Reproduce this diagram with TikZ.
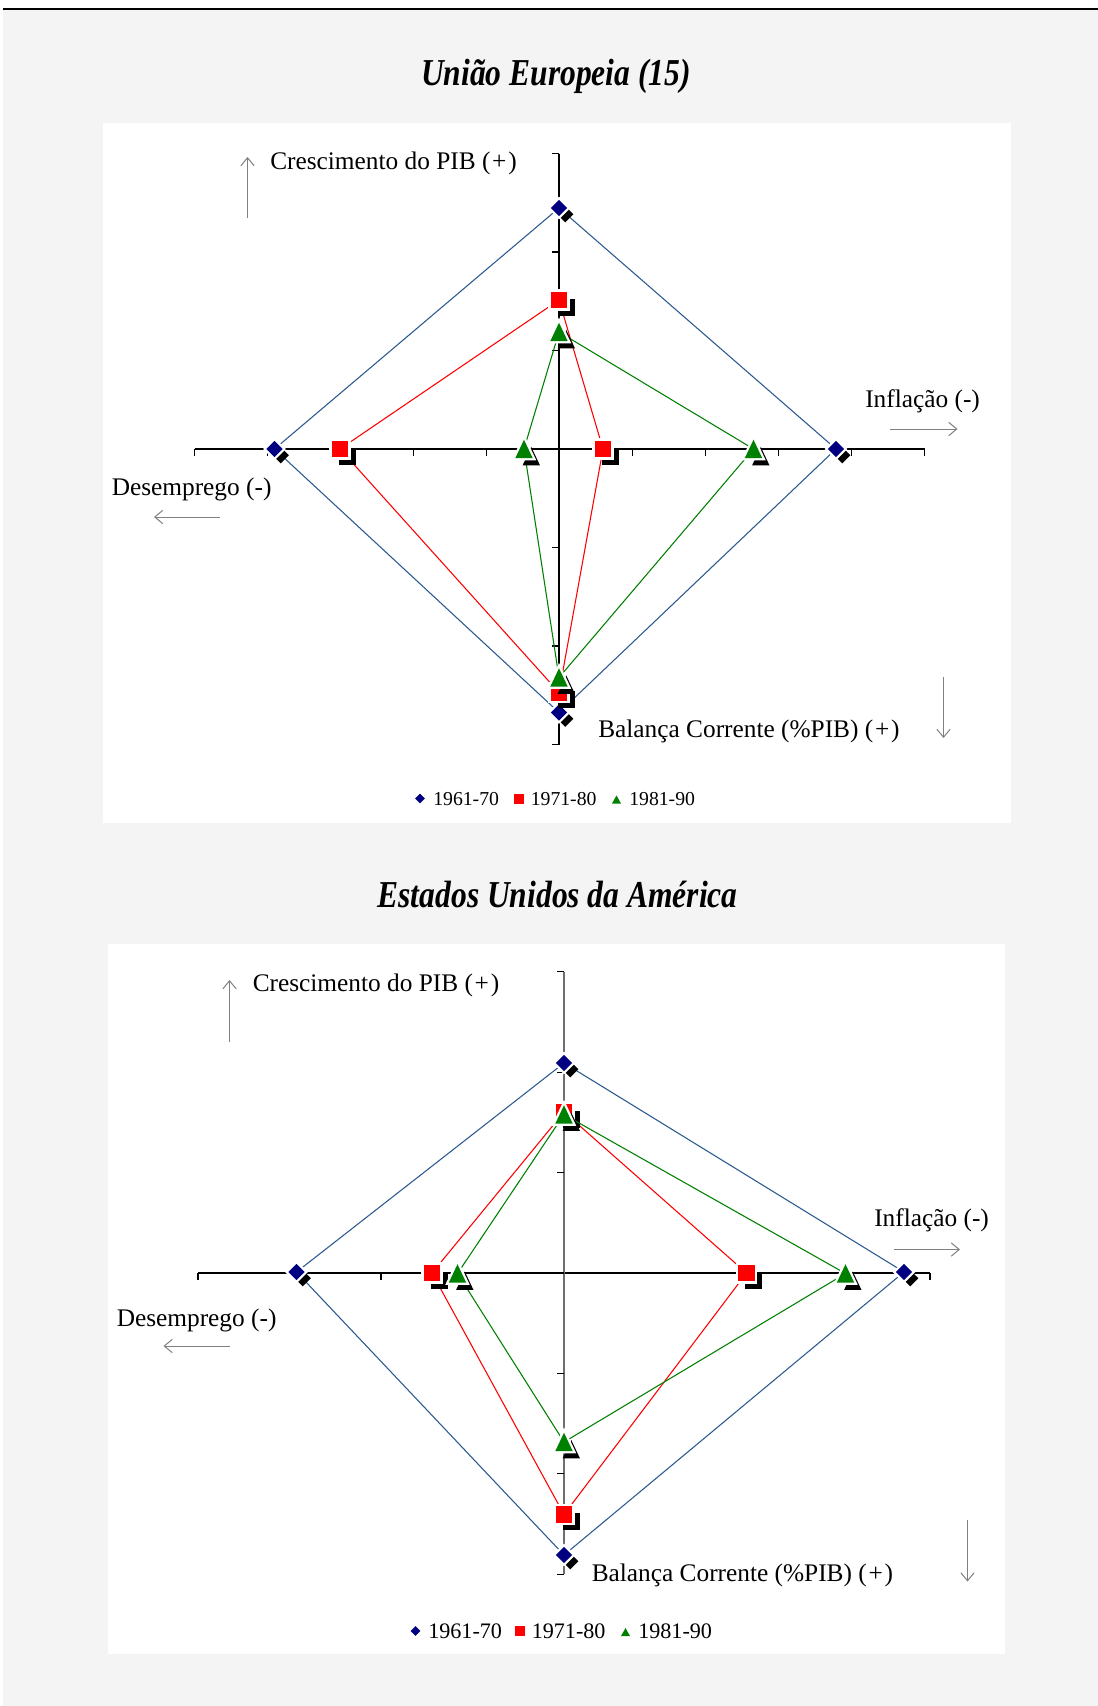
\documentclass[tikz,border=0pt]{standalone}
\usepackage{fontspec}
\setmainfont{Liberation Serif}
\usetikzlibrary{arrows.meta}

\definecolor{pagegray}{HTML}{F4F4F4}
\definecolor{navymk}{HTML}{000080}
\definecolor{navyline}{HTML}{2B5A8E}
\definecolor{redmk}{HTML}{FF0000}
\definecolor{greenmk}{HTML}{008000}
\definecolor{hintgray}{HTML}{808080}
\definecolor{vaxis}{HTML}{6E6E6E}

\newcommand{\plussign}{(\kern1.3pt+\kern1.3pt)}

\tikzset{
  axisline/.style={draw=black, line width=0.8pt},
  tickline/.style={draw=black, line width=0.8pt},
  hint/.style={draw=hintgray, line width=0.75pt, -{Straight Barb[length=6pt,width=10pt,line width=0.75pt]}},
  axlabel/.style={font=\fontsize{19}{21}\selectfont, inner sep=0pt, anchor=base west},
  charttitle/.style={font=\fontsize{28.5}{32}\selectfont\bfseries\itshape, inner sep=0pt, anchor=base},
  legtext/.style={inner sep=0pt, anchor=base west},
  serA/.style={draw=navyline, line width=0.8pt},
  serB/.style={draw=redmk, line width=0.8pt},
  serC/.style={draw=greenmk, line width=0.8pt},
  halo/.style={fill=white, draw=white, line width=3.4pt, line join=miter},
  % data markers: offset black shadow, white halo, coloured face
  pics/mkdiam/.style={code={
    \begin{scope}[scale=1.12]
    \fill[black] (5.5,-1.8) -- (12.8,5.5) -- (5.5,12.8) -- (-1.8,5.5) -- cycle;
    \filldraw[halo] (0,-7.3) -- (7.3,0) -- (0,7.3) -- (-7.3,0) -- cycle;
    \fill[navymk] (0,-7.3) -- (7.3,0) -- (0,7.3) -- (-7.3,0) -- cycle;
    \end{scope}
  }},
  pics/mksq/.style={code={
    \begin{scope}[scale=1.12]
    \fill[black] (-1,-1) rectangle (14,14);
    \filldraw[halo] (-7.5,-7.5) rectangle (7.5,7.5);
    \fill[redmk] (-7.5,-7.5) rectangle (7.5,7.5);
    \end{scope}
  }},
  pics/mktri/.style={code={
    \begin{scope}[scale=1.12]
    \fill[black] (6.5,-1.8) -- (14.3,14.7) -- (-1.3,14.7) -- cycle;
    \filldraw[halo] (0,-8.3) -- (7.8,8.2) -- (-7.8,8.2) -- cycle;
    \fill[greenmk] (0,-8.3) -- (7.8,8.2) -- (-7.8,8.2) -- cycle;
    \end{scope}
  }},
  % legend keys
  pics/legdiam/.style={code={
    \fill[navymk] (0,-4.8) -- (4.8,0) -- (0,4.8) -- (-4.8,0) -- cycle;
  }},
  pics/legsq/.style={code={
    \fill[redmk] (-5,-5) rectangle (5,5);
  }},
  pics/legtri/.style={code={
    \fill[greenmk] (0,-4.5) -- (4.5,3.5) -- (-4.5,3.5) -- cycle;
  }},
}

\begin{document}
\begin{tikzpicture}[x=0.75pt,y=-0.75pt]
  \useasboundingbox (0,0) rectangle (1098,1706);
  % page
  \fill[white] (0,0) rectangle (1098,1706);
  \fill[pagegray] (3,9) rectangle (1098,1706);
  \draw[black, line width=1.1pt] (3,9) -- (1098,9);

  % ================= first chart =================
  \node[charttitle] (t1) at (556,85.5) {\scalebox{0.83}[1]{União Europeia (15)}};
  \fill[white] (103,123) rectangle (1011,823);

  % axes
  \draw[axisline] (194.5,449) -- (924.5,449);
  \foreach \i in {0,...,10} \draw[tickline] ({194.5+73*\i},449) -- ++(0,7);
  \draw[axisline] (559,153.5) -- (559,744.5);
  \foreach \i in {0,...,6} \draw[tickline] (559,{153.5+98.5*\i}) -- ++(-7,0);

  % direction hints
  \draw[hint] (247.5,218) -- (247.5,157);
  \node[axlabel] (c1) at (270,169) {Crescimento do PIB \plussign};
  \node[axlabel] (i1) at (865,407) {Inflação (-)};
  \draw[hint] (890,429) -- (957.5,429);
  \node[axlabel] (d1) at (111.5,495) {Desemprego (-)};
  \draw[hint] (220,517) -- (154,517);
  \node[axlabel] (b1) at (598,737.5) {Balança Corrente (\%PIB) \plussign};
  \draw[hint] (943.5,677) -- (943.5,738);

  % data points
  \coordinate (a1n) at (559,208);   \coordinate (a1e) at (836,449);
  \coordinate (a1s) at (559,712.5); \coordinate (a1w) at (274.5,449);
  \coordinate (b1n) at (559,300);   \coordinate (b1e) at (603,449);
  \coordinate (b1s) at (559,692.5); \coordinate (b1w) at (340,449);
  \coordinate (g1n) at (559,332);   \coordinate (g1e) at (753.5,449);
  \coordinate (g1s) at (559,677.5); \coordinate (g1w) at (524,449);

  \draw[serA] (a1n) -- (a1e) -- (a1s) -- (a1w) -- cycle;
  \foreach \p in {a1n,a1e,a1s,a1w} \pic at (\p) {mkdiam};
  \draw[serB] (b1n) -- (b1e) -- (b1s) -- (b1w) -- cycle;
  \foreach \p in {b1n,b1e,b1s,b1w} \pic at (\p) {mksq};
  \draw[serC] (g1n) -- (g1e) -- (g1s) -- (g1w) -- cycle;
  \foreach \p in {g1n,g1e,g1s,g1w} \pic at (\p) {mktri};

  % legend
  \pic at (420,798.5) {legdiam};
  \node[legtext, font=\fontsize{14.8}{16}\selectfont] (l1a) at (433,805.5) {1961-70};
  \pic at (518.5,798.5) {legsq};
  \node[legtext, font=\fontsize{14.8}{16}\selectfont] (l1b) at (530.5,805.5) {1971-80};
  \pic at (616.5,800) {legtri};
  \node[legtext, font=\fontsize{14.8}{16}\selectfont] (l1c) at (629,805.5) {1981-90};

  % ================= second chart =================
  \node[charttitle] (t2) at (557.7,907) {\scalebox{0.83}[1]{Estados Unidos da América}};
  \fill[white] (107.5,943.5) rectangle (1004.5,1654);

  % axes
  \draw[axisline] (198,1273) -- (930,1273);
  \foreach \i in {0,...,4} \draw[tickline] ({198+183*\i},1273) -- ++(0,7);
  \draw[draw=vaxis, line width=1.1pt] (564,971.8) -- (564,1574.2);
  \foreach \i in {0,...,6} \draw[tickline] (564,{971.8+100.4*\i}) -- ++(-7,0);

  % direction hints
  \draw[hint] (229.5,1041.5) -- (229.5,980);
  \node[axlabel] (c2) at (252.5,991.5) {Crescimento do PIB \plussign};
  \node[axlabel] (i2) at (874,1226.5) {Inflação (-)};
  \draw[hint] (894,1249.5) -- (960,1249.5);
  \node[axlabel] (d2) at (116.5,1326) {Desemprego (-)};
  \draw[hint] (229.5,1346) -- (163.5,1346);
  \node[axlabel] (b2) at (591.5,1581) {Balança Corrente (\%PIB) \plussign};
  \draw[hint] (967.5,1519.5) -- (967.5,1581.5);

  % data points
  \coordinate (a2n) at (564,1063);  \coordinate (a2e) at (904,1272);
  \coordinate (a2s) at (564,1555);  \coordinate (a2w) at (296.5,1272);
  \coordinate (b2n) at (564,1112);  \coordinate (b2e) at (746.5,1273);
  \coordinate (b2s) at (564,1514.5);\coordinate (b2w) at (432,1273);
  \coordinate (g2n) at (564,1114.5);\coordinate (g2e) at (845.5,1273.5);
  \coordinate (g2s) at (564,1442);  \coordinate (g2w) at (457.5,1273.5);

  \draw[serA] (a2n) -- (a2e) -- (a2s) -- (a2w) -- cycle;
  \foreach \p in {a2n,a2e,a2s,a2w} \pic at (\p) {mkdiam};
  \draw[serB] (b2n) -- (b2e) -- (b2s) -- (b2w) -- cycle;
  \foreach \p in {b2n,b2e,b2s,b2w} \pic at (\p) {mksq};
  \draw[serC] (g2n) -- (g2e) -- (g2s) -- (g2w) -- cycle;
  \foreach \p in {g2n,g2e,g2s,g2w} \pic at (\p) {mktri};

  % legend
  \pic at (415.5,1631) {legdiam};
  \node[legtext, font=\fontsize{16.6}{18}\selectfont] (l2a) at (428,1638.5) {1961-70};
  \pic at (520,1631) {legsq};
  \node[legtext, font=\fontsize{16.6}{18}\selectfont] (l2b) at (531.5,1638.5) {1971-80};
  \pic at (625.5,1632.5) {legtri};
  \node[legtext, font=\fontsize{16.6}{18}\selectfont] (l2c) at (638,1638.5) {1981-90};
\end{tikzpicture}
\end{document}
